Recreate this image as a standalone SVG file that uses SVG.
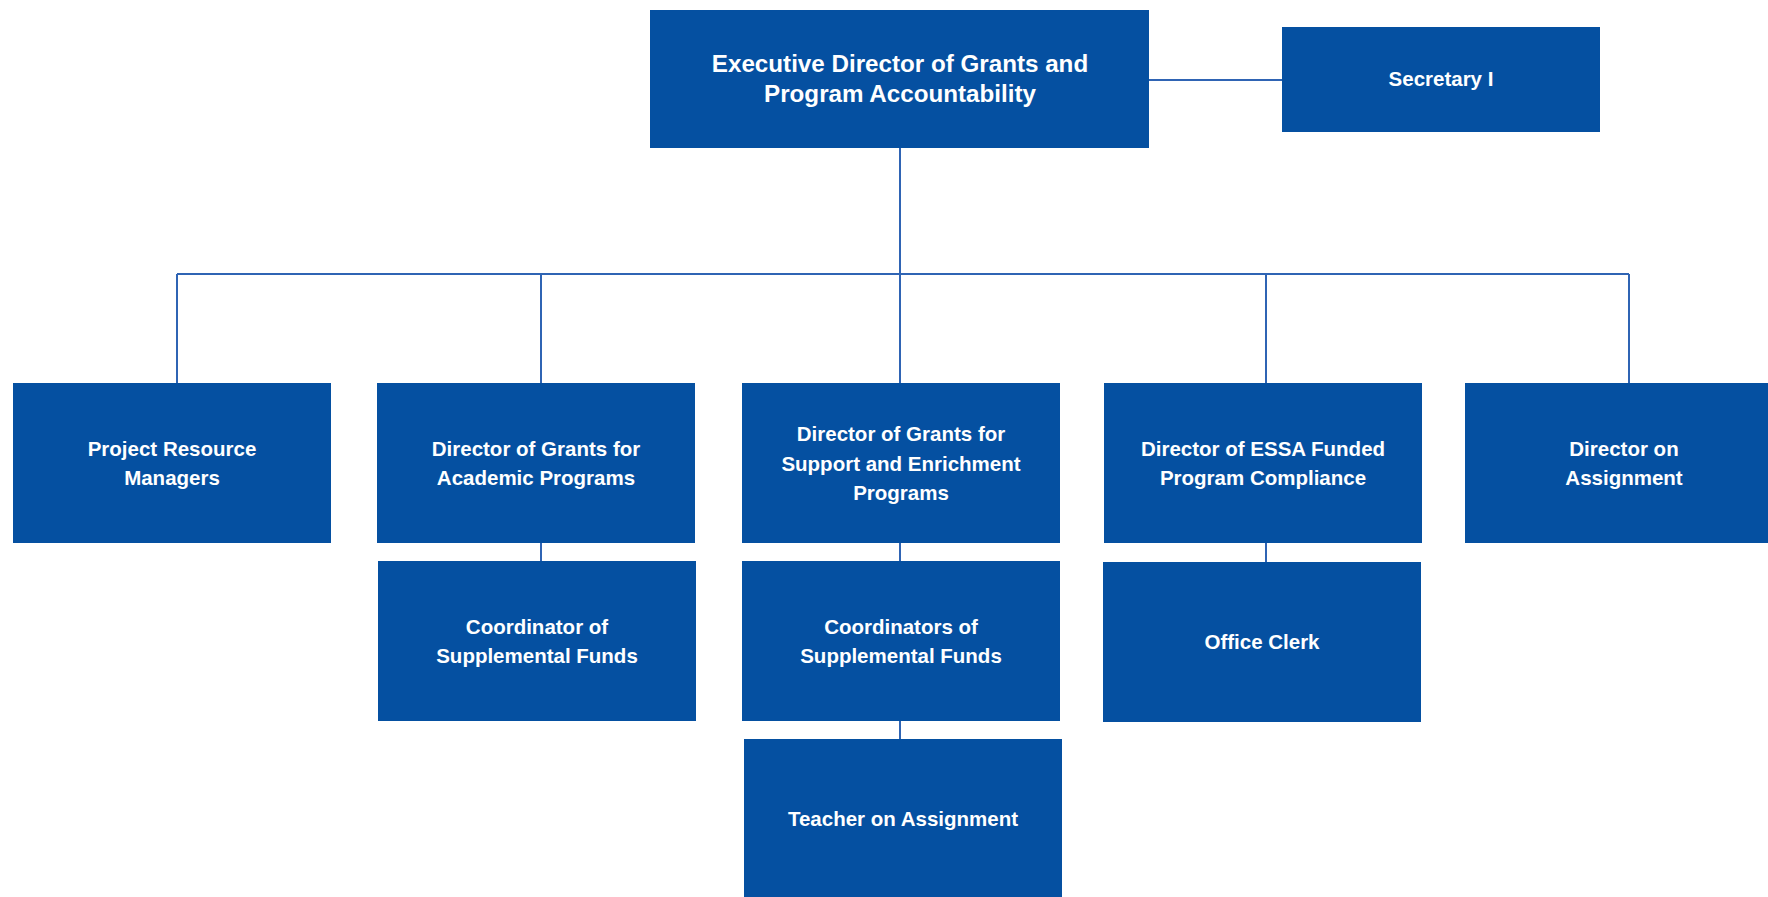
<svg xmlns="http://www.w3.org/2000/svg" width="1768" height="897" viewBox="0 0 1768 897">
<style>
.box{fill:#0550A1}
.t{fill:#ffffff;font-family:"Liberation Sans",Arial,sans-serif;font-weight:bold;font-size:20.5px;text-anchor:middle}
.big{font-size:24.2px}
.c{stroke:#2F64B4;stroke-width:2;fill:none}
</style>
<rect width="1768" height="897" fill="#ffffff"/>
<g id="connectors">
<path class="c" d="M900 148V383M1149 80H1282M177 274H1629M177 274V383M541 274V383M1266 274V383M1629 274V383M541 543V561M900 543V561M900 721V739M1266 543V562"/>
</g>
<g id="exec"><rect class="box" x="650" y="10" width="499" height="138"/>
<text class="t big" x="900" y="72">Executive Director of Grants and</text>
<text class="t big" x="900" y="102">Program Accountability</text></g>
<g id="secretary"><rect class="box" x="1282" y="27" width="318" height="105"/>
<text class="t" x="1441" y="86">Secretary I</text></g>
<g id="prm"><rect class="box" x="13" y="383" width="318" height="160"/>
<text class="t" x="172" y="456">Project Resource</text>
<text class="t" x="172" y="485">Managers</text></g>
<g id="dgap"><rect class="box" x="377" y="383" width="318" height="160"/>
<text class="t" x="536" y="456">Director of Grants for</text>
<text class="t" x="536" y="485">Academic Programs</text></g>
<g id="dgsep"><rect class="box" x="742" y="383" width="318" height="160"/>
<text class="t" x="901" y="441">Director of Grants for</text>
<text class="t" x="901" y="471">Support and Enrichment</text>
<text class="t" x="901" y="500">Programs</text></g>
<g id="dessa"><rect class="box" x="1104" y="383" width="318" height="160"/>
<text class="t" x="1263" y="456">Director of ESSA Funded</text>
<text class="t" x="1263" y="485">Program Compliance</text></g>
<g id="doa"><rect class="box" x="1465" y="383" width="318" height="160"/>
<text class="t" x="1624" y="456">Director on</text>
<text class="t" x="1624" y="485">Assignment</text></g>
<g id="coord1"><rect class="box" x="378" y="561" width="318" height="160"/>
<text class="t" x="537" y="634">Coordinator of</text>
<text class="t" x="537" y="663">Supplemental Funds</text></g>
<g id="coord2"><rect class="box" x="742" y="561" width="318" height="160"/>
<text class="t" x="901" y="634">Coordinators of</text>
<text class="t" x="901" y="663">Supplemental Funds</text></g>
<g id="clerk"><rect class="box" x="1103" y="562" width="318" height="160"/>
<text class="t" x="1262" y="649">Office Clerk</text></g>
<g id="teacher"><rect class="box" x="744" y="739" width="318" height="160"/>
<text class="t" x="903" y="826">Teacher on Assignment</text></g>
</svg>
